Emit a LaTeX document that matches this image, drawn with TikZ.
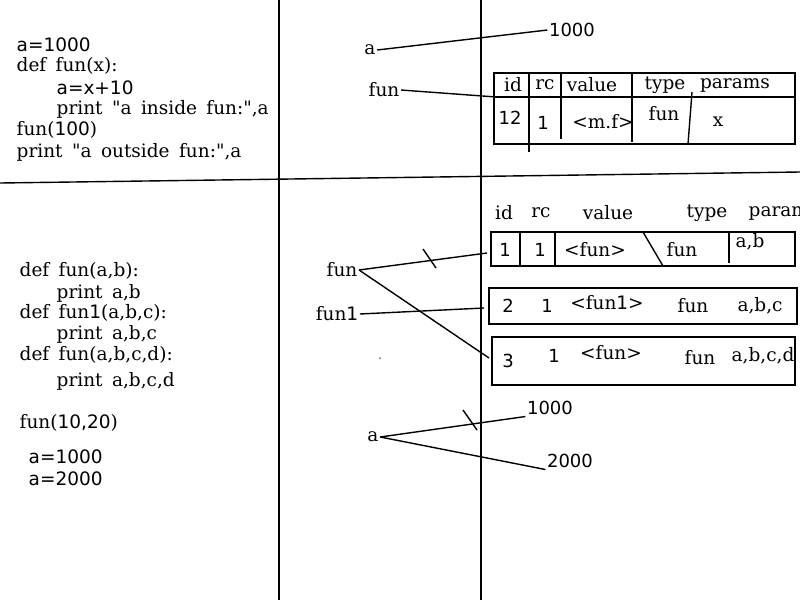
\documentclass[tikz,border=0pt]{standalone}
\usepackage{fontspec}
\setmainfont{DejaVu Serif}[WordSpace=1.6]
\setsansfont{DejaVu Sans}
\begin{document}
\begin{tikzpicture}[x=1pt,y=-1pt,
		line width=1.4pt,
		every node/.style={inner sep=1pt,font=\fontsize{18.5}{20}\selectfont},
		code/.style={anchor=west},
		num/.style={font=\fontsize{18}{20}\selectfont\sffamily},
		mydot/.style={circle,fill,inner sep=0pt,minimum size=1.5pt}]
		
		\useasboundingbox (0,0) rectangle (800,600);
		
		% frame lines
		\draw (279,0) -- (279,600);
		\draw (481,0) -- (481,600);
		\draw (0,183) -- (800,172);
		
		% top left code
		\node[code] (l1) at (15,45) {\sffamily a=1000};
		\node[code] (l2) at (15,66) {def fun(x):};
		\node[code] (l3) at (55,88) {\sffamily a=x+10};
		\node[code] (l4) at (55,109) {print \textquotedbl a inside fun:\textquotedbl,a};
		\node[code] (l5) at (15,130) {fun(\textsf{100})};
		\node[code] (l6) at (15,152) {print \textquotedbl a outside fun:\textquotedbl,a};
		
		% top names
		\node (a1) at (370,50) {a};
		\node[num] (v1) at (572,30) {1000};
		\node (f1) at (384,90) {fun};
		\coordinate (t1w) at (496,97);
		\draw (a1.east) -- (v1.west);
		\draw (f1.east) -- (t1w);
		
		% top table
		\draw (494,73) rectangle (795,144);
		\draw (494,97) -- (795,97);
		\draw (529,73) -- (529,152);
		\draw (561,73) -- (561,139);
		\draw (632,73) -- (632,142);
		\draw (692,92) -- (688,144);
		\node (h1) at (513,85) {id};
		\node (h2) at (545,85) {rc};
		\node (h3) at (592,85) {value};
		\node (h4) at (665,85) {type};
		\node (h5) at (735,85) {params};
		\node[num] (c1) at (510,118) {12};
		\node[num] (c2) at (543,123) {1};
		\node (c3) at (603,122) {<m.f>};
		\node (c4) at (664,114) {fun};
		\node (c5) at (718,122) {x};
		
		% bottom left code
		\node[code] (m1) at (18,271) {def fun(a,b):};
		\node[code] (m2) at (55,293) {print a,b};
		\node[code] (m3) at (18,313) {def fun\textsf{1}(a,b,c):};
		\node[code] (m4) at (55,334) {print a,b,c};
		\node[code] (m5) at (18,355) {def fun(a,b,c,d):};
		\node[code] (m6) at (55,381) {print a,b,c,d};
		\node[code] (m7) at (18,423) {fun(\textsf{10,20})};
		\node[code] (m8) at (27,457) {\sffamily a=1000};
		\node[code] (m9) at (27,479) {\sffamily a=2000};
		
		% bottom header
		\node (g1) at (504,213) {id};
		\node (g2) at (541,213) {rc};
		\node (g3) at (608,213) {value};
		\node (g4) at (707,213) {type};
		\node[anchor=west] (g5) at (747,213) {params};
		
		% bottom tables
		\draw (491,232) rectangle (795,266);
		\draw (520,232) -- (520,266);
		\draw (555,232) -- (555,266);
		\draw (643,232) -- (663,266);
		\draw (729,232) -- (729,263);
		\node[num] (d1) at (505,250) {1};
		\node[num] (d2) at (540,250) {1};
		\node (d3) at (595,250) {<fun>};
		\node (d4) at (682,250) {fun};
		\node (d5) at (750,242) {a,b};
		
		\draw (489,288) rectangle (797,324);
		\node[num] (e1) at (508,306) {2};
		\node[num] (e2) at (547,306) {1};
		\node (e3) at (607,303) {<fun\textsf{1}>};
		\node (e4) at (693,306) {fun};
		\node (e5) at (760,306) {a,b,c};
		
		\draw (492,337) rectangle (795,385);
		\node[num] (k1) at (508,361) {3};
		\node[num] (k2) at (554,356) {1};
		\node (k3) at (611,353) {<fun>};
		\node (k4) at (700,358) {fun};
		\node (k5) at (763,356) {a,b,c,d};
		
		% bottom names
		\node (f2) at (342,270) {fun};
		\node (f3) at (337,314) {fun\textsf{1}};
		\coordinate (r1) at (487,253);
		\coordinate (r2) at (484,308);
		\coordinate (r3) at (489,358);
		\draw (f2.east) -- (r1);
		\draw (f2.east) -- (r3);
		\draw (f3.east) -- (r2);
		\draw (423,249) -- (436,268);
		\node[mydot] (dot) at (380,358) {};
		
		\node (a2) at (373,437) {a};
		\node[num] (v2) at (550,408) {1000};
		\node[num] (v3) at (570,461) {2000};
		\draw (a2.east) -- (v2.south west);
		\draw (a2.east) -- (v3.south west);
		\draw (463,410) -- (477,430);
		\end{tikzpicture}
\end{document}
